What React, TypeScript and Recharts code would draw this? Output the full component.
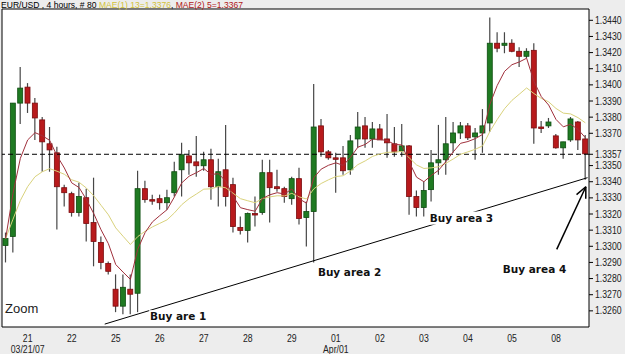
import React from 'react';
import {
  ComposedChart, Bar, Line, XAxis, YAxis, CartesianGrid,
  ReferenceLine, ReferenceArea, ReferenceDot,
} from 'recharts';

const FONT = '"Liberation Sans", Arial, sans-serif';

const openPrices = [
  1.33005, 1.33061, 1.33887, 1.33986, 1.33887, 1.33783, 1.33635, 1.33579, 1.33363, 1.33326,
  1.33209, 1.33301, 1.33147, 1.33024, 1.32894, 1.32734, 1.32629, 1.32734, 1.32709, 1.33357,
  1.33289, 1.33295, 1.33270, 1.33332, 1.33474, 1.33560, 1.33523, 1.33499, 1.33536, 1.33369,
  1.33474, 1.33382, 1.33116, 1.33098, 1.33203, 1.33209, 1.33456, 1.33369, 1.33357, 1.33295,
  1.33419, 1.33178, 1.33215, 1.33746, 1.33585, 1.33548, 1.33548, 1.33474, 1.33665, 1.33746,
  1.33665, 1.33727, 1.33665, 1.33635, 1.33591, 1.33622, 1.33308, 1.33240, 1.33351, 1.33517,
  1.33536, 1.33641, 1.33702, 1.33746, 1.33678, 1.33702, 1.33764, 1.34258, 1.34245, 1.34258,
  1.34208, 1.34177, 1.34214, 1.33739, 1.33746, 1.33684, 1.33610, 1.33659, 1.33770, 1.33665,
];
const highPrices = [
  1.33085, 1.33887, 1.34110, 1.34011, 1.33918, 1.33801, 1.33739, 1.33616, 1.33382, 1.33338,
  1.33394, 1.33357, 1.33425, 1.33061, 1.32906, 1.32826, 1.32826, 1.32826, 1.33468, 1.33406,
  1.33320, 1.33320, 1.33351, 1.33523, 1.33641, 1.33597, 1.33684, 1.33585, 1.33604, 1.33542,
  1.33752, 1.33425, 1.33184, 1.33209, 1.33308, 1.33536, 1.33536, 1.33474, 1.33369, 1.33431,
  1.33486, 1.33277, 1.34005, 1.33789, 1.33597, 1.33579, 1.33622, 1.33690, 1.33832, 1.33801,
  1.33770, 1.33758, 1.33820, 1.33739, 1.33758, 1.33628, 1.33345, 1.33400, 1.33597, 1.33752,
  1.33801, 1.33770, 1.33770, 1.33764, 1.33733, 1.33850, 1.34418, 1.34326, 1.34326, 1.34282,
  1.34233, 1.34227, 1.34258, 1.33776, 1.33795, 1.33696, 1.33647, 1.33801, 1.33776, 1.33690,
];
const lowPrices = [
  1.32900, 1.32962, 1.33758, 1.33826, 1.33659, 1.33462, 1.33462, 1.33104, 1.33246, 1.33184,
  1.33184, 1.33030, 1.32876, 1.32857, 1.32826, 1.32592, 1.32579, 1.32579, 1.32592, 1.33270,
  1.33258, 1.33227, 1.33227, 1.33308, 1.33308, 1.33443, 1.33431, 1.33468, 1.33289, 1.33246,
  1.33246, 1.33085, 1.33073, 1.33024, 1.33122, 1.33196, 1.33147, 1.33338, 1.33270, 1.33258,
  1.33135, 1.32999, 1.32900, 1.33554, 1.33536, 1.33332, 1.33443, 1.33443, 1.33610, 1.33610,
  1.33610, 1.33659, 1.33548, 1.33554, 1.33554, 1.33196, 1.33184, 1.33184, 1.33277, 1.33443,
  1.33443, 1.33579, 1.33665, 1.33659, 1.33536, 1.33579, 1.33709, 1.34202, 1.34196, 1.34202,
  1.34110, 1.34165, 1.33635, 1.33702, 1.33733, 1.33604, 1.33542, 1.33647, 1.33597, 1.33412,
];
const closePrices = [
  1.33048, 1.33887, 1.33980, 1.33887, 1.33795, 1.33647, 1.33597, 1.33369, 1.33332, 1.33209,
  1.33308, 1.33141, 1.33030, 1.32900, 1.32845, 1.32629, 1.32746, 1.32703, 1.33357, 1.33289,
  1.33283, 1.33270, 1.33301, 1.33462, 1.33567, 1.33517, 1.33499, 1.33536, 1.33369, 1.33462,
  1.33308, 1.33122, 1.33098, 1.33203, 1.33196, 1.33456, 1.33363, 1.33357, 1.33308, 1.33419,
  1.33172, 1.33215, 1.33739, 1.33585, 1.33548, 1.33545, 1.33468, 1.33653, 1.33739, 1.33665,
  1.33727, 1.33659, 1.33641, 1.33585, 1.33622, 1.33308, 1.33240, 1.33345, 1.33517, 1.33536,
  1.33635, 1.33702, 1.33746, 1.33672, 1.33702, 1.33746, 1.34258, 1.34227, 1.34258, 1.34208,
  1.34177, 1.34208, 1.33733, 1.33736, 1.33770, 1.33610, 1.33647, 1.33789, 1.33659, 1.33573,
];
// MAE(2) 5 line (dark red)
const mae5 = [
  1.33048, 1.33328, 1.33545, 1.33659, 1.33704, 1.33685, 1.33656, 1.33561, 1.33485, 1.33393,
  1.33364, 1.33290, 1.33203, 1.33102, 1.33016, 1.32887, 1.32840, 1.32795, 1.32982, 1.33085,
  1.33151, 1.33190, 1.33227, 1.33306, 1.33393, 1.33434, 1.33456, 1.33482, 1.33445, 1.33450,
  1.33403, 1.33309, 1.33239, 1.33227, 1.33217, 1.33296, 1.33319, 1.33332, 1.33324, 1.33355,
  1.33294, 1.33267, 1.33425, 1.33478, 1.33502, 1.33517, 1.33501, 1.33551, 1.33614, 1.33631,
  1.33664, 1.33662, 1.33655, 1.33631, 1.33628, 1.33522, 1.33428, 1.33400, 1.33439, 1.33471,
  1.33525, 1.33585, 1.33638, 1.33649, 1.33667, 1.33693, 1.33881, 1.33997, 1.34084, 1.34125,
  1.34142, 1.34165, 1.34021, 1.33927, 1.33875, 1.33786, 1.33740, 1.33756, 1.33724, 1.33673,
];
// MAE(1) 13 line (pale yellow)
const mae13 = [
  1.33048, 1.33168, 1.33284, 1.33370, 1.33431, 1.33462, 1.33481, 1.33465, 1.33446, 1.33412,
  1.33397, 1.33361, 1.33313, 1.33254, 1.33195, 1.33114, 1.33062, 1.33011, 1.33060, 1.33093,
  1.33120, 1.33142, 1.33164, 1.33207, 1.33258, 1.33295, 1.33324, 1.33354, 1.33356, 1.33371,
  1.33362, 1.33328, 1.33295, 1.33282, 1.33270, 1.33296, 1.33306, 1.33313, 1.33312, 1.33328,
  1.33306, 1.33293, 1.33356, 1.33389, 1.33412, 1.33432, 1.33437, 1.33467, 1.33506, 1.33529,
  1.33557, 1.33572, 1.33582, 1.33583, 1.33588, 1.33548, 1.33504, 1.33482, 1.33486, 1.33493,
  1.33514, 1.33541, 1.33570, 1.33585, 1.33601, 1.33622, 1.33712, 1.33786, 1.33853, 1.33904,
  1.33942, 1.33981, 1.33946, 1.33916, 1.33895, 1.33854, 1.33825, 1.33820, 1.33797, 1.33765,
];

const dayTickIndex = [3, 9, 15, 21, 27, 33, 39, 45, 51, 57, 63, 69, 75];
const dayTickLabels = ['21', '22', '25', '26', '27', '28', '29', '01', '02', '03', '04', '05', '08'];
const dayTickSubLabels = ['03/21/07', '', '', '', '', '', '', 'Apr/01', '', '', '', '', ''];
const priceTicks = [
  1.326, 1.327, 1.328, 1.329, 1.330, 1.331, 1.332, 1.333, 1.334, 1.335, 1.3357,
  1.337, 1.338, 1.339, 1.340, 1.341, 1.342, 1.343, 1.344,
];
const lastPrice = 1.3357;

const trendLine = [{ x: 13.5, y: 1.32518 }, { x: 79.3, y: 1.33425 }];
const arrowShaft = [{ x: 75.1, y: 1.32981 }, { x: 79.07, y: 1.33369 }];
const arrowWingA = [{ x: 77.8, y: 1.33320 }, { x: 79.07, y: 1.33369 }];
const arrowWingB = [{ x: 79.06, y: 1.33295 }, { x: 79.07, y: 1.33369 }];
const buyLabels = [
  { text: 'Buy are 1', x: 19.66, y: 1.32542 },
  { text: 'Buy area 2', x: 42.55, y: 1.32814 },
  { text: 'Buy area 3', x: 57.8, y: 1.33153 },
  { text: 'Buy area 4', x: 67.75, y: 1.32832 },
];

const Y_MIN = 1.325;
const Y_MAX = 1.3447;
const X_MIN = -0.5;
const X_MAX = 79.5;

const data = openPrices.map((o, i) => ({
  i,
  o,
  h: highPrices[i],
  l: lowPrices[i],
  c: closePrices[i],
  range: [lowPrices[i], highPrices[i]],
  m13: mae13[i],
  m5: mae5[i],
}));

const Candle = (props: any) => {
  const { x, y, width, height, payload } = props;
  if (x == null || payload == null) return null;
  const yTop = Math.min(y, y + height);
  const hh = Math.abs(height);
  const { o, h, l, c } = payload;
  const span = h - l || 1e-9;
  const toY = (v: number) => yTop + ((h - v) / span) * hh;
  const cx = x + width / 2;
  const up = c > o;
  const top = toY(Math.max(o, c));
  const bot = toY(Math.min(o, c));
  const bodyH = Math.max(bot - top, 1.5);
  return (
    <g>
      <line x1={cx} x2={cx} y1={yTop} y2={yTop + hh} stroke="#474747" strokeWidth={1.2} />
      <rect
        x={x}
        y={top}
        width={width}
        height={bodyH}
        fill={up ? '#1f7a22' : '#b81a1c'}
        stroke={up ? '#0e4d10' : '#7a0c0e'}
        strokeWidth={0.8}
      />
    </g>
  );
};

const PriceTick = (p: any) => (
  <text
    x={0}
    y={0}
    dy="0.35em"
    transform={`translate(${p.x},${p.y}) scale(0.87,1)`}
    fontSize={10}
    fontFamily={FONT}
    fill="#222"
    textAnchor="start"
  >
    {Number(p.payload.value).toFixed(4)}
  </text>
);

const DayTick = (p: any) => {
  const k = dayTickIndex.indexOf(p.payload.value);
  if (k < 0) return null;
  return (
    <g transform={`translate(${p.x},${p.y})`}>
      <text x={0} y={15} textAnchor="middle" fontSize={10} fontFamily={FONT} fill="#222" transform="scale(0.87,1)">
        {dayTickLabels[k]}
      </text>
      {dayTickSubLabels[k] ? (
        <text x={0} y={26} textAnchor="middle" fontSize={10} fontFamily={FONT} fill="#222" transform="scale(0.87,1)">
          {dayTickSubLabels[k]}
        </text>
      ) : null}
    </g>
  );
};

const makeLabel = (text: string) => (p: any) => {
  if (p.cx == null) return null;
  const w = text.length * 6.3;
  return (
    <g>
      <rect x={p.cx - 1} y={p.cy - 10} width={w} height={13} fill="#fff" />
      <text x={p.cx} y={p.cy} fontSize={10.5} fontWeight="bold" fontFamily='"DejaVu Sans", Verdana, sans-serif' fill="#111">
        {text}
      </text>
    </g>
  );
};

export default function App() {
  return (
    <div style={{ position: 'absolute', left: 0, top: 0, width: 625, height: 354, background: '#ededed', overflow: 'hidden' }}>
      <ComposedChart
        width={625}
        height={354}
        data={data}
        margin={{ top: 9, right: 0, left: 2, bottom: 0 }}
      >
        <CartesianGrid fill="#ffffff" horizontal={false} vertical={false} />
        <XAxis
          dataKey="i"
          type="number"
          domain={[X_MIN, X_MAX]}
          allowDataOverflow
          ticks={dayTickIndex}
          interval={0}
          tick={<DayTick />}
          tickLine={false}
          axisLine={false}
          tickSize={0}
          tickMargin={0}
          height={27}
        />
        <YAxis
          orientation="right"
          type="number"
          domain={[Y_MIN, Y_MAX]}
          allowDataOverflow
          ticks={priceTicks}
          interval={0}
          tick={<PriceTick />}
          tickLine={{ stroke: '#000' }}
          tickSize={4}
          tickMargin={2}
          axisLine={false}
          width={36}
        />
        <ReferenceLine y={lastPrice} stroke="#000" strokeDasharray="5 3" strokeWidth={1} />
        <Bar dataKey="range" barSize={5} shape={<Candle />} isAnimationActive={false} />
        <Line type="linear" dataKey="m13" stroke="#d9d27c" strokeWidth={1} dot={false} activeDot={false} isAnimationActive={false} />
        <Line type="linear" dataKey="m5" stroke="#a0303c" strokeWidth={1} dot={false} activeDot={false} isAnimationActive={false} />
        <ReferenceLine segment={trendLine} stroke="#000" strokeWidth={1} ifOverflow="visible" />
        <ReferenceLine segment={arrowShaft} stroke="#000" strokeWidth={1.5} ifOverflow="visible" />
        <ReferenceLine segment={arrowWingA} stroke="#000" strokeWidth={1.5} ifOverflow="visible" />
        <ReferenceLine segment={arrowWingB} stroke="#000" strokeWidth={1.5} ifOverflow="visible" />
        {buyLabels.map((b) => (
          <ReferenceDot key={b.text} x={b.x} y={b.y} r={0} ifOverflow="visible" shape={makeLabel(b.text)} />
        ))}
        <ReferenceArea x1={X_MIN} x2={X_MAX} y1={Y_MIN} y2={Y_MAX} fill="none" fillOpacity={0} stroke="#000" strokeWidth={1} ifOverflow="visible" />
      </ComposedChart>
      <div
        style={{
          position: 'absolute', left: 5, top: 302, fontFamily: FONT, fontSize: 13, color: '#222', lineHeight: '13px',
        }}
      >
        Zoom
      </div>
      <div
        style={{
          position: 'absolute', left: 1, top: 0, fontFamily: FONT, fontSize: 9.5, lineHeight: '9px', whiteSpace: 'nowrap',
          transform: 'scaleX(0.9)', transformOrigin: 'left top', color: '#000',
        }}
      >
        <span>EUR/USD , 4 hours, # 80 </span>
        <span style={{ color: '#d2c23a' }}>MAE(1) 13=1.3376</span>
        <span>, </span>
        <span style={{ color: '#b01818' }}>MAE(2) 5=1.3367</span>
      </div>
    </div>
  );
}
